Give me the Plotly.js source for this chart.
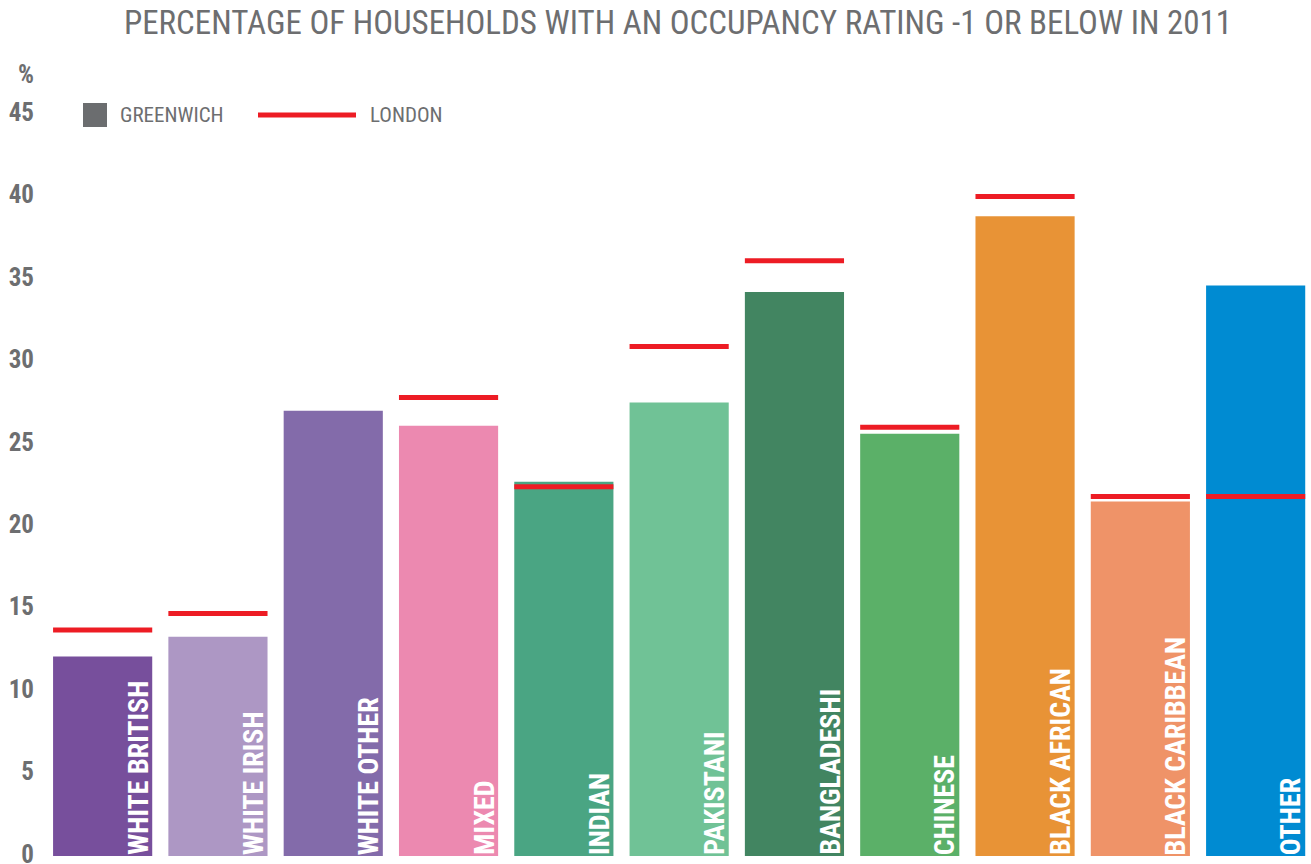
<!DOCTYPE html>
<html>
<head>
<meta charset="utf-8">
<script src="https://cdn.plot.ly/plotly-3.0.1.min.js"></script>
<style>html,body{margin:0;padding:0;background:#fff;}#chart{width:1311px;height:864px;}</style>
</head>
<body>
<div id="chart"></div>
<script>
// ---- data ----
var categories = ["WHITE BRITISH","WHITE IRISH","WHITE OTHER","MIXED","INDIAN","PAKISTANI","BANGLADESHI","CHINESE","BLACK AFRICAN","BLACK CARIBBEAN","OTHER"];
var greenwich = [12.1, 13.3, 27.0, 26.1, 22.7, 27.5, 34.2, 25.6, 38.8, 21.5, 34.6];
var london    = [13.7, 14.7, null, 27.8, 22.4, 30.9, 36.1, 26.0, 40.0, 21.8, 21.8];
var barColors = ["#774f9c","#ad97c4","#836baa","#ec89b0","#4aa583","#70c296","#428561","#5bb068","#e89336","#ef9368","#008bd2"];
var yTicks = [0,5,10,15,20,25,30,35,40,45];

// ---- layout helpers ----
var W = 1311, H = 864, ML = 45, MR = 0, MT = 81, MB = 8;
var plotW = W - ML - MR, plotH = H - MT - MB;
function pxX(x){ return (x - ML) / plotW; }
function pxY(y){ return (H - MB - y) / plotH; }
var half = 0.43;
var grey = "#6d6e70";
var red = "#ed1c24";
var cond = "Roboto Condensed, Liberation Sans Narrow, sans-serif";

var traces = [{
  type: "bar",
  x: categories,
  y: greenwich,
  marker: {color: barColors, line: {width: 0}},
  hoverinfo: "x+y",
  showlegend: false
}];

var shapes = [];
london.forEach(function(v, i){
  if (v === null) return;
  shapes.push({type: "line", xref: "x", yref: "y", x0: i - half, x1: i + half, y0: v, y1: v,
               line: {color: red, width: 5}, layer: "above"});
});
// legend marks
shapes.push({type: "rect", xref: "paper", yref: "paper", x0: pxX(83), x1: pxX(107), y0: pxY(127), y1: pxY(103),
             fillcolor: "#6b6d6f", line: {width: 0}});
shapes.push({type: "line", xref: "paper", yref: "paper", x0: pxX(258), x1: pxX(356), y0: pxY(115), y1: pxY(115),
             line: {color: red, width: 5}});

var annotations = categories.map(function(c, i){
  return {x: i + half, y: 0, xref: "x", yref: "y", text: c, showarrow: false, textangle: -90,
          xanchor: "right", yanchor: "bottom", xshift: 4, yshift: -1,
          font: {family: cond, size: 28, color: "#ffffff", weight: "bold"}};
});
annotations.push({x: pxX(118), y: pxY(115), xref: "paper", yref: "paper", text: "GREENWICH", showarrow: false,
                  xanchor: "left", yanchor: "middle", font: {family: cond, size: 21, color: grey}});
annotations.push({x: pxX(368), y: pxY(115), xref: "paper", yref: "paper", text: "LONDON", showarrow: false,
                  xanchor: "left", yanchor: "middle", font: {family: cond, size: 21, color: grey}});
annotations.push({x: pxX(36), y: pxY(75), xref: "paper", yref: "paper", text: "%", showarrow: false,
                  xanchor: "right", yanchor: "middle", font: {family: cond, size: 25, color: grey, weight: "bold"}});

var layout = {
  width: W, height: H,
  margin: {l: ML, r: MR, t: MT, b: MB, pad: 0},
  paper_bgcolor: "#ffffff", plot_bgcolor: "#ffffff",
  title: {text: "PERCENTAGE OF HOUSEHOLDS WITH AN OCCUPANCY RATING -1 OR BELOW IN 2011",
          x: 0.5, xref: "paper", y: 1 - 22 / H, yref: "container", yanchor: "middle",
          font: {family: cond, size: 33, color: grey}},
  bargap: 0.14,
  showlegend: false,
  xaxis: {type: "category", range: [-0.5, 10.48], showticklabels: false, showline: false,
          showgrid: false, zeroline: false, ticks: "", fixedrange: true},
  yaxis: {range: [0, 47], tickvals: yTicks, ticktext: yTicks.map(String), showgrid: false, zeroline: false,
          showline: false, ticks: "", ticklabelstandoff: 10, ticklabeloverflow: "allow", ticklabelshift: -2,
          tickfont: {family: cond, size: 25, color: grey, weight: "bold"}},
  shapes: shapes,
  annotations: annotations
};

Plotly.newPlot("chart", traces, layout, {displayModeBar: false, responsive: false});
</script>
</body>
</html>
